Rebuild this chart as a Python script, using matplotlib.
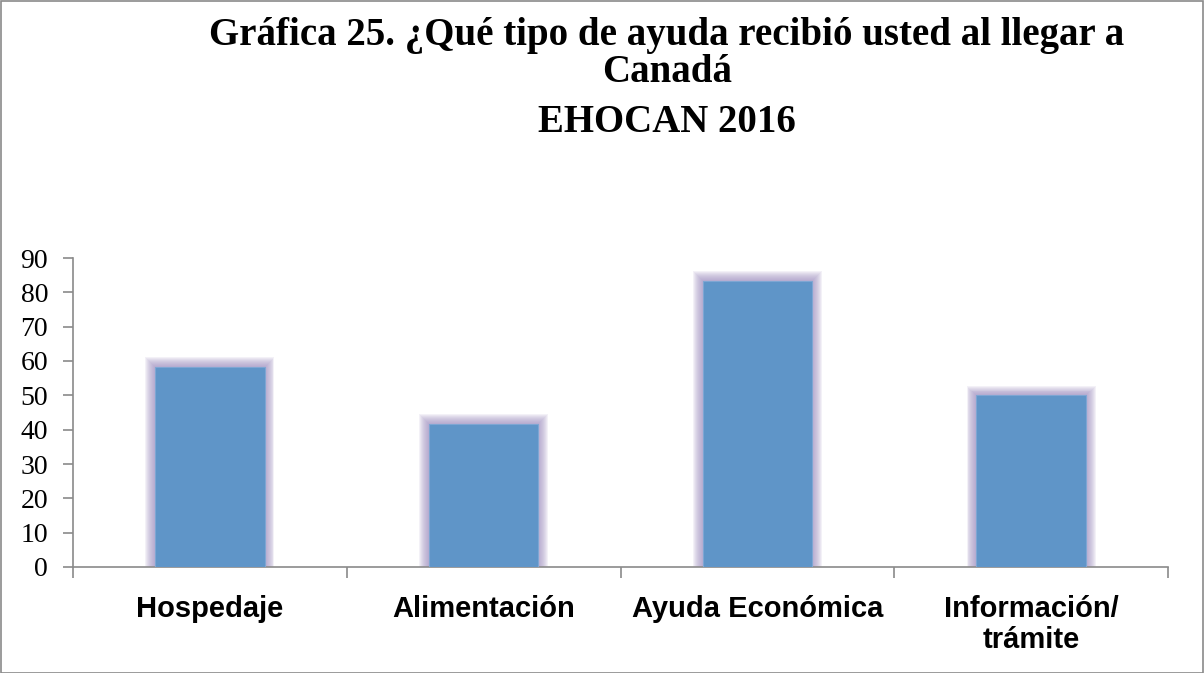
import matplotlib
matplotlib.use("Agg")
import matplotlib.pyplot as plt
from matplotlib.patches import Rectangle
import numpy as np

categories = ["Hospedaje", "Alimentación", "Ayuda Económica", "Información/\ntrámite"]
values = [58.3, 41.7, 83.3, 50.0]
yticks = [0, 10, 20, 30, 40, 50, 60, 70, 80, 90]

W, H = 1204, 673
fig = plt.figure(figsize=(W / 100, H / 100), dpi=100)
ax = fig.add_axes([73 / W, 1 - 567 / H, (1168 - 73) / W, (567 - 258) / H])

x = np.arange(len(categories))
bw = 0.4
# glow layers
for i in range(10, 0, -1):
    dx = 0.0036 * i
    dy = 0.28 * i
    ax.bar(x, [v + dy for v in values], width=bw + 2 * dx, color="#a493c4",
           alpha=0.12, linewidth=0, zorder=1)
ax.bar(x, values, width=bw, color="#5f95c8", edgecolor="#7ea6d3", linewidth=0.8, zorder=3)

ax.set_xlim(-0.5, len(categories) - 0.5)
ax.set_ylim(0, 90)
ax.set_yticks(yticks)
ax.set_yticklabels([str(t) for t in yticks], fontsize=20, family="Liberation Serif")
ax.set_xticks(np.arange(-0.5, len(categories), 1.0))
ax.set_xticklabels([""] * (len(categories) + 1))
ax.set_xticks(x, minor=True)
ax.set_xticklabels(categories, minor=True, fontsize=21, fontweight="bold",
                   family="Liberation Sans", linespacing=1.15)
ax.tick_params(axis="x", which="minor", length=0, pad=20)
ax.tick_params(axis="x", which="major", length=8, color="#8a8a8a", width=1.2, direction="out")
ax.tick_params(axis="y", length=7, color="#8a8a8a", width=1.2, pad=11)
for s in ["top", "right"]:
    ax.spines[s].set_visible(False)
for s in ["left", "bottom"]:
    ax.spines[s].set_color("#8a8a8a")
    ax.spines[s].set_linewidth(1.2)

tf = dict(fontsize=28, fontweight="bold", family="Liberation Serif", ha="center", va="center")
fig.text(667 / W, 1 - 36 / H, "Gráfica 25. ¿Qué tipo de ayuda recibió usted al llegar a", **tf)
fig.text(667 / W, 1 - 73 / H, "Canadá", **tf)
fig.text(667 / W, 1 - 122 / H, "EHOCAN 2016", **tf)

fig.patches.append(Rectangle((0.5 / W, 0.5 / H), 1 - 1.5 / W, 1 - 1.5 / H, transform=fig.transFigure,
                             fill=False, edgecolor="#8a8a8a", linewidth=1.2))
fig.savefig("out.png", dpi=100)
